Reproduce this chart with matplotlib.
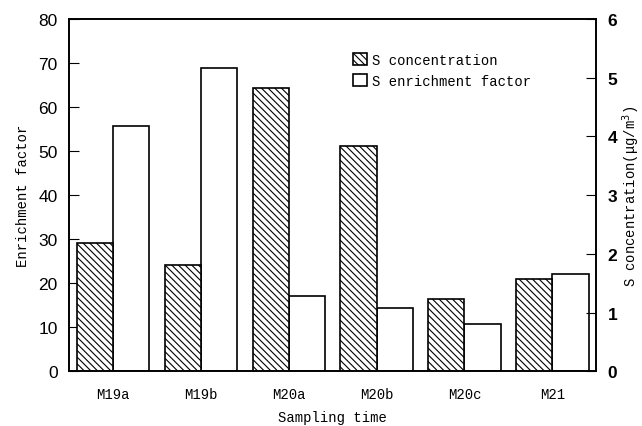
import matplotlib
matplotlib.use('Agg')
import matplotlib.pyplot as plt
import numpy as np

plt.rcParams['hatch.linewidth'] = 0.8

# values
samples = ['M19a', 'M19b', 'M20a', 'M20b', 'M20c', 'M21']
s_conc = [2.19, 1.81, 4.82, 3.83, 1.24, 1.58]          # ug/m3, right axis
s_enrich = [55.8, 69.0, 17.1, 14.3, 10.7, 22.2]       # left axis

mono = 'Liberation Mono'
x = np.arange(len(samples))
w = 0.41

fig, ax = plt.subplots(figsize=(6.42, 4.27), dpi=100)
fig.subplots_adjust(left=0.107, right=0.929, top=0.953, bottom=0.128)
ax2 = ax.twinx()

b1 = ax2.bar(x - w / 2, s_conc, w, color='white', edgecolor='black',
             hatch='\\\\\\\\\\', linewidth=1.2, label='S concentration')
b2 = ax.bar(x + w / 2, s_enrich, w, color='white', edgecolor='black',
            linewidth=1.2, label='S enrichment factor')

ax.set_xlim(-0.5, 5.5)
ax.set_ylim(0, 80)
ax2.set_ylim(0, 6)
ax.set_yticks(range(0, 81, 10))
ax2.set_yticks(range(0, 7))
ax.set_xticks(x)
ax.set_xticklabels(samples, fontfamily=mono, fontsize=10)
ax.tick_params(axis='x', length=0, pad=11)
ax.tick_params(axis='y', direction='in', length=7, labelsize=12.5, pad=8)
ax2.tick_params(axis='y', direction='in', length=7, labelsize=12.5, pad=8)
for t in ax.get_yticklabels():
    t.set_fontfamily('Liberation Sans')
for t in ax2.get_yticklabels():
    t.set_fontfamily('Liberation Sans')
    t.set_fontweight('bold')

for a in (ax, ax2):
    for s in a.spines.values():
        s.set_linewidth(1.2)

ax.set_xlabel('Sampling time', fontfamily=mono, fontsize=10, labelpad=7)
ax.set_ylabel('Enrichment factor', fontfamily=mono, fontsize=10, labelpad=6)
ax2.set_ylabel('S concentration(\u03bcg/m$^3$)', fontfamily=mono, fontsize=10,
               labelpad=2)

ax2.legend([b1, b2], ['S concentration', 'S enrichment factor'],
           loc='upper left', bbox_to_anchor=(0.515, 0.94), frameon=False,
           prop={'family': mono, 'size': 10}, handlelength=1.0,
           handleheight=1.0, handletextpad=0.4, labelspacing=0.5)

fig.savefig('out.png', dpi=100)
